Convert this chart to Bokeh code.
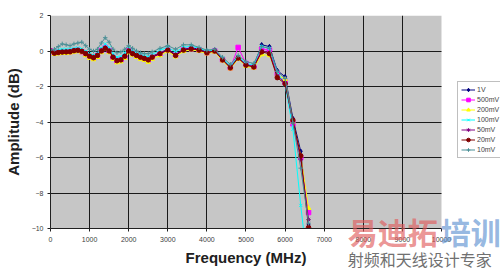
from bokeh.plotting import figure
from bokeh.models import Legend, LegendItem, FixedTicker, Range1d, BoxAnnotation
from bokeh.core.properties import value
from bokeh.embed import file_html
from bokeh.resources import INLINE

freq = [0, 100, 200, 300, 400, 500, 600, 700, 800, 900, 1000, 1100, 1200, 1300, 1400,
        1500, 1600, 1700, 1800, 1900, 2000, 2100, 2200, 2300, 2400, 2500, 2600,
        2800, 3000, 3200, 3400, 3600, 3800, 4000, 4200, 4400, 4600, 4800, 5000,
        5200, 5400, 5600, 5800, 6000, 6200, 6400, 6600]

amp_1V = [0.00, -0.10, -0.06, -0.04, -0.03, -0.02, 0.04, 0.06, 0.00, -0.12, -0.26, -0.34, -0.20, 0.05, 0.22,
          0.05, -0.30, -0.50, -0.45, -0.25, 0.05, -0.10, -0.20, -0.30, -0.38, -0.45, -0.30,
          -0.10, 0.10, -0.20, 0.10, 0.18, 0.10, -0.05, 0.05, -0.45, -0.90, -0.35, -0.75,
          -0.85, 0.35, 0.25, -1.10, -1.45, -3.80, -5.65, -9.80]
amp_500mV = [0.00, -0.12, -0.08, -0.06, -0.05, -0.04, 0.02, 0.04, -0.04, -0.18, -0.32, -0.40, -0.26, 0.02, 0.20,
             0.02, -0.36, -0.56, -0.50, -0.32, 0.02, -0.14, -0.26, -0.36, -0.45, -0.52, -0.36,
             -0.16, 0.04, -0.24, 0.06, 0.12, 0.05, -0.10, 0.00, -0.50, -0.95, 0.20, -0.70,
             -0.90, 0.10, 0.05, -1.30, -1.75, -4.10, -6.00, -9.10]
amp_200mV = [-0.05, -0.18, -0.15, -0.12, -0.12, -0.10, -0.05, -0.02, -0.08, -0.25, -0.40, -0.48, -0.35, -0.08, 0.10,
             -0.08, -0.45, -0.65, -0.60, -0.40, -0.08, -0.22, -0.35, -0.45, -0.52, -0.62, -0.45,
             -0.25, -0.02, -0.32, -0.02, 0.08, 0.00, -0.15, -0.05, -0.55, -1.00, -0.45, -0.85,
             -0.95, -0.20, -0.25, -1.35, -1.60, -4.00, -5.90, -8.85]
amp_100mV = [0.02, -0.05, 0.05, 0.10, 0.10, 0.10, 0.15, 0.18, 0.12, -0.02, -0.15, -0.25, -0.12, 0.15, 0.40,
             0.20, -0.15, -0.35, -0.30, -0.10, 0.15, 0.00, -0.10, -0.20, -0.28, -0.32, -0.20,
             0.05, 0.20, -0.05, 0.20, 0.28, 0.15, 0.00, 0.05, -0.40, -0.85, -0.30, -0.70,
             -0.80, 0.25, 0.15, -1.20, -1.90, -4.40, -8.70, -12.50]
amp_50mV = [0.00, -0.10, -0.07, -0.05, -0.05, -0.03, 0.03, 0.05, -0.01, -0.14, -0.28, -0.36, -0.22, 0.02, 0.18,
            0.02, -0.33, -0.52, -0.48, -0.28, 0.02, -0.13, -0.24, -0.33, -0.40, -0.48, -0.33,
            -0.13, 0.06, -0.22, 0.07, 0.14, 0.06, -0.08, 0.01, -0.48, -0.92, -0.38, -0.78,
            -0.88, 0.00, -0.08, -1.40, -1.80, -4.00, -6.10, -9.50]
amp_20mV = [0.00, -0.12, -0.08, -0.06, -0.05, -0.04, 0.02, 0.04, -0.02, -0.15, -0.30, -0.38, -0.25, 0.00, 0.15,
            0.00, -0.35, -0.55, -0.50, -0.30, 0.00, -0.15, -0.25, -0.35, -0.42, -0.50, -0.35,
            -0.15, 0.05, -0.25, 0.05, 0.12, 0.05, -0.10, 0.00, -0.50, -0.95, -0.40, -0.80,
            -0.90, -0.05, -0.15, -1.50, -1.85, -3.90, -5.90, -9.95]
amp_10mV = [0.05, 0.10, 0.25, 0.40, 0.35, 0.30, 0.40, 0.45, 0.50, 0.30, 0.10, 0.00, 0.10, 0.45, 0.75,
            0.50, 0.10, -0.10, -0.05, 0.10, 0.30, 0.15, 0.00, -0.10, -0.15, -0.15, -0.05,
            0.15, 0.30, 0.10, 0.35, 0.35, 0.20, 0.05, 0.10, -0.35, -0.75, -0.25, -0.60,
            -0.70, 0.25, 0.15, -1.15, -1.55, -4.05, -6.60, -9.70]

series_names = ["1V", "500mV", "200mV", "100mV", "50mV", "20mV", "10mV"]
series_values = [amp_1V, amp_500mV, amp_200mV, amp_100mV, amp_50mV, amp_20mV, amp_10mV]
series_colors = ["#000080", "#ff00ff", "#ffff00", "#00ffff", "#800080", "#800000", "#4a8f96"]
series_markers = ["diamond", "square", "triangle", "x", "asterisk", "circle", "cross"]

x_ticks = [0, 1000, 2000, 3000, 4000, 5000, 6000, 7000, 8000, 9000, 10000]
y_ticks = [2, 0, -2, -4, -6, -8, -10]
x_title = "Frequency (MHz)"
y_title = "Amplitude (dB)"

wm_main = ["易迪拓", "培训"]
wm_sub = "射频和天线设计专家"

X_MIN, X_MAX = x_ticks[0], x_ticks[-1]
Y_MIN, Y_MAX = y_ticks[-1], y_ticks[0]
# the frame runs to the right edge of the page so that the legend can sit beside the plot area
X_VIEW_END = 11509

p = figure(width=500, height=270, output_backend="svg", toolbar_location=None,
           x_range=Range1d(X_MIN, X_VIEW_END), y_range=Range1d(Y_MIN, Y_MAX),
           min_border_left=50, min_border_right=0, min_border_top=15, min_border_bottom=42)
p.background_fill_color = "white"
p.border_fill_color = "white"
p.outline_line_color = None

# gray plot area
p.add_layout(BoxAnnotation(left=X_MIN, right=X_MAX, bottom=Y_MIN, top=Y_MAX,
                           fill_color="#c6c6c6", fill_alpha=1, line_color=None, level="image"))

p.xaxis.ticker = FixedTicker(ticks=x_ticks)
p.yaxis.ticker = FixedTicker(ticks=y_ticks)
p.xaxis.bounds = (X_MIN, X_MAX)
for ax in (p.xaxis[0], p.yaxis[0]):
    ax.axis_line_color = "#202020"
    ax.major_tick_line_color = "#202020"
    ax.major_tick_out = 3
    ax.major_tick_in = 0
    ax.minor_tick_line_color = None
    ax.major_label_text_font = "Liberation Sans"
    ax.major_label_text_font_size = "7px"
    ax.major_label_text_color = "#404040"
    ax.axis_label_text_font = "Liberation Sans"
    ax.axis_label_text_font_style = "bold"
    ax.axis_label_text_font_size = "15px"
    ax.axis_label_text_color = "#202020"
p.yaxis.axis_label = y_title
p.xaxis.major_label_standoff = 5
p.yaxis.major_label_standoff = 4
p.yaxis.axis_label_standoff = 7

p.xgrid.ticker = FixedTicker(ticks=x_ticks[1:-1])
p.ygrid.ticker = FixedTicker(ticks=y_ticks[1:-1])
p.xgrid.grid_line_color = "#1a1a1a"
p.ygrid.grid_line_color = "#1a1a1a"
p.xgrid.grid_line_width = 1
p.ygrid.grid_line_width = 1
p.xgrid.bounds = (X_MIN, X_MAX)
p.ygrid.cross_bounds = (X_MIN, X_MAX)

items = []
for name, vals, col, mk in zip(series_names, series_values, series_colors, series_markers):
    r1 = p.line(freq, vals, line_color=col, line_width=1)
    r2 = p.scatter(freq, vals, marker=mk, size=4.5, fill_color=col, line_color=col)
    items.append(LegendItem(label=name, renderers=[r1, r2]))

legend = Legend(items=items, location=(407, 70))
legend.label_text_font = "Liberation Sans"
legend.label_text_font_size = "7px"
legend.label_height = 9
legend.glyph_height = 9
legend.glyph_width = 14
legend.label_standoff = 2
legend.spacing = 1
legend.padding = 3
legend.margin = 0
legend.border_line_color = "#808080"
legend.background_fill_color = "white"
legend.background_fill_alpha = 1
p.add_layout(legend, "center")

# x-axis title, centred under the plot area (not under the wider frame)
p.text(x=[(X_MIN + X_MAX) / 2], y=[Y_MIN], text=[x_title], text_font=value("Liberation Sans"),
       text_font_style="bold", text_font_size="15px", text_color="#202020",
       text_align="center", text_baseline="middle", y_offset=29, level="overlay")

# watermark (anchored at the lower edge of the plot area, pushed below it by pixel offsets)
p.text(x=[7600], y=[Y_MIN], text=[wm_main[0]], text_font=value("Noto Sans CJK SC"),
       text_font_style="bold", text_font_size="30px", text_color="#e05a5a", text_alpha=0.65,
       text_baseline="middle", y_offset=2, level="overlay")
p.text(x=[9980], y=[Y_MIN], text=[wm_main[1]], text_font=value("Noto Sans CJK SC"),
       text_font_style="bold", text_font_size="30px", text_color="#5b8fd0", text_alpha=0.65,
       text_baseline="middle", y_offset=2, level="overlay")
p.text(x=[7600], y=[Y_MIN], text=[wm_sub], text_font=value("Noto Sans CJK SC"),
       text_font_size="16px", text_color="#707070",
       text_baseline="middle", y_offset=30, level="overlay")

open("out.html", "w").write(file_html(p, INLINE))
